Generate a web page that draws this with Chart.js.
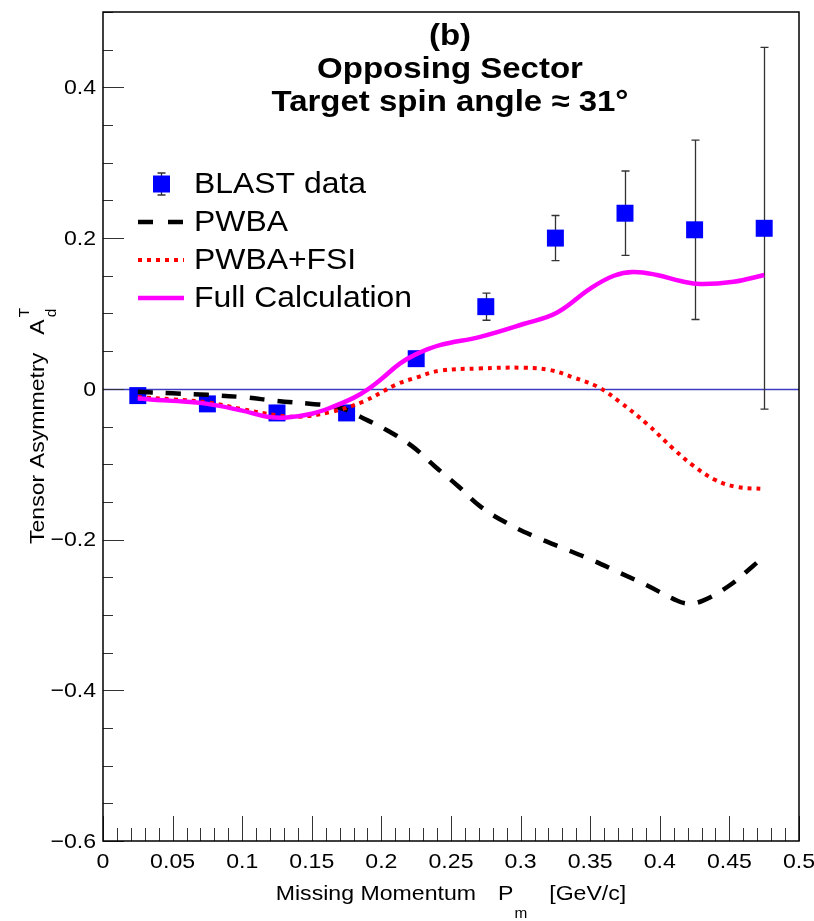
<!DOCTYPE html>
<html>
<head>
<meta charset="utf-8">
<script src="https://cdn.jsdelivr.net/npm/chart.js@4.4.1/dist/chart.umd.min.js"></script>
<style>
  html, body { margin: 0; padding: 0; background: #ffffff; }
  #wrap { width: 814px; height: 921px; }
</style>
</head>
<body>
<div id="wrap"><canvas id="c" width="814" height="921"></canvas></div>
<script>
// Measured tensor asymmetry, opposing sector, target spin angle ~31 deg
const momentum  = [0.025, 0.075, 0.125, 0.175, 0.225, 0.275, 0.325, 0.375, 0.425, 0.475];
const blastA    = [-0.009, -0.020, -0.032, -0.032, 0.040, 0.109, 0.200, 0.233, 0.211, 0.213];
const blastErr  = [0.004, 0.005, 0.006, 0.007, 0.008, 0.018, 0.030, 0.056, 0.119, 0.240];

// Plane-wave Born approximation
const pwbaX = [0.025, 0.05, 0.075, 0.1, 0.125, 0.15, 0.165, 0.175, 0.1825, 0.204, 0.222, 0.2385, 0.255,
               0.271, 0.29, 0.31, 0.33, 0.351, 0.371, 0.391, 0.41, 0.42, 0.431, 0.45, 0.467, 0.475];
const pwbaY = [-0.004, -0.006, -0.008, -0.011, -0.016, -0.020, -0.023, -0.028, -0.035, -0.055, -0.076, -0.103, -0.129,
               -0.156, -0.178, -0.196, -0.211, -0.227, -0.244, -0.261, -0.279, -0.285, -0.281, -0.261, -0.235, -0.222];

// PWBA with final-state interactions
const fsiX = [0.025, 0.05, 0.075, 0.1, 0.125, 0.141, 0.163, 0.187, 0.211, 0.225, 0.242, 0.27, 0.302,
              0.321, 0.338, 0.355, 0.371, 0.391, 0.41, 0.424, 0.44, 0.455, 0.475];
const fsiY = [-0.011, -0.014, -0.018, -0.027, -0.035, -0.037, -0.031, -0.017, 0.006, 0.015, 0.024, 0.027, 0.028,
              0.025, 0.015, 0.003, -0.017, -0.047, -0.080, -0.102, -0.121, -0.130, -0.133];

// Full calculation
const fullX = [0.025, 0.05, 0.075, 0.1, 0.118, 0.132, 0.15, 0.165, 0.18, 0.19, 0.2, 0.213, 0.225, 0.242,
               0.271, 0.302, 0.326, 0.35, 0.367, 0.381, 0.398, 0.415, 0.429, 0.453, 0.475];
const fullY = [-0.013, -0.016, -0.020, -0.029, -0.037, -0.038, -0.033, -0.024, -0.012, -0.001, 0.013, 0.033, 0.046, 0.058,
               0.069, 0.086, 0.101, 0.133, 0.150, 0.155, 0.151, 0.143, 0.139, 0.142, 0.151];

const xTicks      = [0, 0.05, 0.1, 0.15, 0.2, 0.25, 0.3, 0.35, 0.4, 0.45, 0.5];
const xTickLabels = ['0', '0.05', '0.1', '0.15', '0.2', '0.25', '0.3', '0.35', '0.4', '0.45', '0.5'];
const yTicks      = [-0.6, -0.4, -0.2, 0, 0.2, 0.4];
const yTickLabels = ['\u22120.6', '\u22120.4', '\u22120.2', '0', '0.2', '0.4'];

const seriesNames = ['BLAST data', 'PWBA', 'PWBA+FSI', 'Full Calculation'];
const titleLines  = ['(b)', 'Opposing Sector', 'Target spin angle \u2248 31\u00b0'];

const FONT = '"Liberation Sans", Arial, Helvetica, sans-serif';
const STRETCH = 1.1;   // slightly wide lettering
const COL_DATA = '#0000ff', COL_PWBA = '#000000', COL_FSI = '#ff0000', COL_FULL = '#ff00ff';

const toPts = (xs, ys) => xs.map((x, i) => ({ x: x, y: ys[i] }));

// text helper: draws horizontally stretched text, returns its drawn width
function txt(ctx, s, x, y, font, align) {
  ctx.save();
  ctx.font = font;
  const w = ctx.measureText(s).width * STRETCH;
  let x0 = x;
  if (align === 'center') x0 = x - w / 2;
  else if (align === 'right') x0 = x - w;
  ctx.translate(x0, y);
  ctx.scale(STRETCH, 1);
  ctx.textAlign = 'left';
  ctx.textBaseline = 'middle';
  ctx.fillText(s, 0, 0);
  ctx.restore();
  return w;
}
function txtWidth(ctx, s, font) {
  ctx.save(); ctx.font = font;
  const w = ctx.measureText(s).width * STRETCH;
  ctx.restore();
  return w;
}

// Frame, inward ticks, zero line, error bars, legend and text
const decorations = {
  id: 'decorations',
  beforeDatasetsDraw(chart) {
    const ctx = chart.ctx, a = chart.chartArea;
    const xs = chart.scales.x, ys = chart.scales.y;
    ctx.save();
    // zero line
    const y0 = Math.round(ys.getPixelForValue(0)) + 0.5;
    ctx.strokeStyle = '#3c3cc0';
    ctx.lineWidth = 1.3;
    ctx.beginPath(); ctx.moveTo(a.left, y0); ctx.lineTo(a.right, y0); ctx.stroke();
    // error bars
    ctx.strokeStyle = '#333333';
    ctx.lineWidth = 1.3;
    momentum.forEach((m, i) => {
      const px = Math.round(xs.getPixelForValue(m)) + 0.5;
      const lo = ys.getPixelForValue(blastA[i] - blastErr[i]);
      const hi = ys.getPixelForValue(blastA[i] + blastErr[i]);
      ctx.beginPath();
      ctx.moveTo(px, lo); ctx.lineTo(px, hi);
      ctx.moveTo(px - 4, lo); ctx.lineTo(px + 4, lo);
      ctx.moveTo(px - 4, hi); ctx.lineTo(px + 4, hi);
      ctx.stroke();
    });
    ctx.restore();
  },
  afterDatasetsDraw(chart) {
    const ctx = chart.ctx, a = chart.chartArea;
    const xs = chart.scales.x, ys = chart.scales.y;
    ctx.save();
    // ticks
    ctx.strokeStyle = '#333333';
    ctx.lineWidth = 1;
    ctx.beginPath();
    for (let i = 0; i <= 22; i++) {
      const v = -0.6 + i * 0.05;
      const py = Math.round(ys.getPixelForValue(v)) + 0.5;
      const len = (i % 4 === 0) ? 21 : 10;
      ctx.moveTo(a.left, py); ctx.lineTo(a.left + len, py);
    }
    for (let i = 0; i <= 50; i++) {
      const v = i * 0.01;
      const px = Math.round(xs.getPixelForValue(v)) + 0.5;
      const len = (i % 5 === 0) ? 25 : 13;
      ctx.moveTo(px, a.bottom); ctx.lineTo(px, a.bottom - len);
    }
    ctx.stroke();
    // frame
    ctx.strokeStyle = '#000000';
    ctx.lineWidth = 1.5;
    ctx.strokeRect(a.left, a.top, a.right - a.left, a.bottom - a.top);

    ctx.fillStyle = '#000';
    // tick labels
    const tickFont = '21px ' + FONT;
    yTicks.forEach((v, i) => txt(ctx, yTickLabels[i], a.left - 7, ys.getPixelForValue(v) + 1, tickFont, 'right'));
    xTicks.forEach((v, i) => txt(ctx, xTickLabels[i], xs.getPixelForValue(v), a.bottom + 21, tickFont, 'center'));

    // title
    const titleFont = 'bold 30px ' + FONT;
    const tY = [37, 70, 103];
    titleLines.forEach((t, i) => txt(ctx, t, 450, tY[i], titleFont, 'center'));

    // legend
    const rows = [184, 222, 260, 298];
    const lx0 = 138, lx1 = 184, tx = 194;
    ctx.strokeStyle = '#333333'; ctx.lineWidth = 1.3;
    ctx.beginPath();
    ctx.moveTo(161.5, rows[0] - 11); ctx.lineTo(161.5, rows[0] + 11);
    ctx.moveTo(157.5, rows[0] - 11); ctx.lineTo(165.5, rows[0] - 11);
    ctx.moveTo(157.5, rows[0] + 11); ctx.lineTo(165.5, rows[0] + 11);
    ctx.stroke();
    ctx.fillStyle = COL_DATA;
    ctx.fillRect(153, rows[0] - 8.5, 17, 17);
    const sample = (y, col, w, dash) => {
      ctx.strokeStyle = col; ctx.lineWidth = w; ctx.setLineDash(dash); ctx.lineCap = 'butt';
      ctx.beginPath(); ctx.moveTo(lx0, y); ctx.lineTo(lx1, y); ctx.stroke();
    };
    sample(rows[1], COL_PWBA, 4.5, [15, 15]);
    sample(rows[2], COL_FSI, 4, [4, 5]);
    sample(rows[3], COL_FULL, 4.5, []);
    ctx.setLineDash([]);
    ctx.fillStyle = '#000';
    const legFont = '29px ' + FONT;
    seriesNames.forEach((n, i) => txt(ctx, n, tx, rows[i] + 1, legFont, 'left'));

    // x axis title
    const axFont = '21px ' + FONT, subFont = '14px ' + FONT;
    const p1 = 'Missing Momentum', p2 = 'P', p4 = '[GeV/c]';
    const w1 = txtWidth(ctx, p1, axFont), w2 = txtWidth(ctx, p2, axFont), w4 = txtWidth(ctx, p4, axFont);
    const w3 = txtWidth(ctx, 'm', subFont);
    const gapA = 22, gapB = 22;
    const total = w1 + gapA + w2 + 1 + w3 + gapB + w4;
    let x = 451 - total / 2;
    const by = 894;
    txt(ctx, p1, x, by, axFont, 'left'); x += w1 + gapA;
    txt(ctx, p2, x, by, axFont, 'left'); x += w2 + 1;
    txt(ctx, 'm', x, by + 20, subFont, 'left'); x += w3 + gapB;
    txt(ctx, p4, x, by, axFont, 'left');

    // y axis title (rotated)
    ctx.save();
    ctx.translate(38, 426);
    ctx.rotate(-Math.PI / 2);
    const q1 = 'Tensor Asymmetry', q2 = 'A';
    const v1 = txtWidth(ctx, q1, axFont), v2 = txtWidth(ctx, q2, axFont);
    const v3 = Math.max(txtWidth(ctx, 'T', subFont), txtWidth(ctx, 'd', subFont));
    const tot = v1 + 18 + v2 + 2 + v3;
    let s = -tot / 2;
    txt(ctx, q1, s, 0, axFont, 'left'); s += v1 + 18;
    txt(ctx, q2, s, 0, axFont, 'left'); s += v2 + 2;
    txt(ctx, 'T', s, -13, subFont, 'left');
    txt(ctx, 'd', s, 14, subFont, 'left');
    ctx.restore();

    ctx.restore();
  }
};

new Chart(document.getElementById('c'), {
  type: 'line',
  data: {
    datasets: [
      { label: seriesNames[3], data: toPts(fullX, fullY), borderColor: COL_FULL, borderWidth: 4.5,
        pointRadius: 0, tension: 0.4, fill: false, order: 0 },
      { label: seriesNames[2], data: toPts(fsiX, fsiY), borderColor: COL_FSI, borderWidth: 4,
        borderDash: [4, 5], borderCapStyle: 'butt', pointRadius: 0, tension: 0.4, fill: false, order: 1 },
      { label: seriesNames[1], data: toPts(pwbaX, pwbaY), borderColor: COL_PWBA, borderWidth: 4.5,
        borderDash: [15, 13], borderCapStyle: 'butt', pointRadius: 0, tension: 0.4, fill: false, order: 2 },
      { label: seriesNames[0], data: toPts(momentum, blastA), showLine: false, pointStyle: 'rect',
        pointRadius: 12, pointHoverRadius: 12, backgroundColor: COL_DATA, borderColor: COL_DATA,
        borderWidth: 0, order: 3 }
    ]
  },
  options: {
    responsive: false,
    animation: false,
    events: [],
    layout: { padding: { top: 11, right: 15, left: 0, bottom: 0 } },
    plugins: { legend: { display: false }, tooltip: { enabled: false }, title: { display: false } },
    scales: {
      x: {
        type: 'linear', min: 0, max: 0.5,
        grid: { display: false, drawTicks: false },
        border: { display: false },
        afterFit(scale) { scale.height = 80; },
        afterBuildTicks(scale) { scale.ticks = xTicks.map(v => ({ value: v })); },
        ticks: { display: false }
      },
      y: {
        type: 'linear', min: -0.6, max: 0.5,
        grid: { display: false, drawTicks: false },
        border: { display: false },
        afterFit(scale) { scale.width = 103; },
        afterBuildTicks(scale) { scale.ticks = yTicks.map(v => ({ value: v })); },
        ticks: { display: false }
      }
    }
  },
  plugins: [decorations]
});
</script>
</body>
</html>
